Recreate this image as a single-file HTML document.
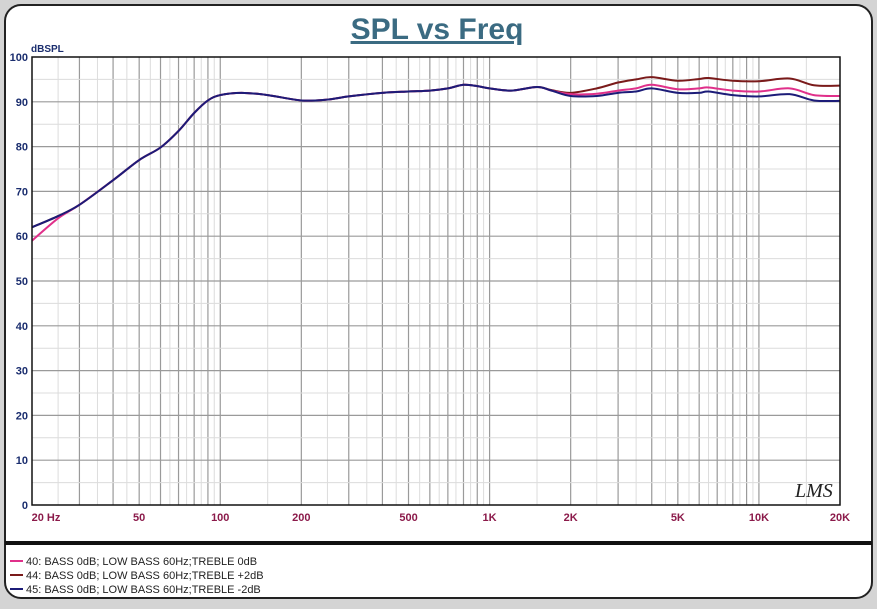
<!DOCTYPE html>
<html><head><meta charset="utf-8"><style>
body{margin:0;background:#d4d4d4;width:877px;height:604px;overflow:hidden;font-family:"Liberation Sans",sans-serif}
</style></head><body>
<svg width="877" height="604" xmlns="http://www.w3.org/2000/svg">
<rect x="5" y="5" width="867" height="593" rx="16" fill="#fff" stroke="#222" stroke-width="2"/>
<text x="437" y="39" text-anchor="middle" font-size="30" font-weight="bold" fill="#3b6b82" text-decoration="underline">SPL vs Freq</text>
<line x1="5" y1="543" x2="872" y2="543" stroke="#111" stroke-width="4"/>
<g id="grid"></g><g id="lines"></g><g id="labels"></g>
<rect x="32" y="57" width="808" height="448" fill="none" stroke="#111" stroke-width="1.5"/>
<text x="31" y="52" font-size="10" font-weight="bold" fill="#1a2d6e">dBSPL</text>
<text x="795" y="497" font-size="20" font-style="italic" fill="#222" font-family="Liberation Serif,serif">LMS</text>
<g font-size="11" fill="#222">
<g><line x1="10" y1="561" x2="23" y2="561" stroke="#e0308a" stroke-width="2"/><text x="26" y="565">40: BASS 0dB; LOW BASS 60Hz;TREBLE 0dB</text></g>
<g><line x1="10" y1="575" x2="23" y2="575" stroke="#7a1a1a" stroke-width="2"/><text x="26" y="579">44: BASS 0dB; LOW BASS 60Hz;TREBLE +2dB</text></g>
<g><line x1="10" y1="589" x2="23" y2="589" stroke="#1c1c78" stroke-width="2"/><text x="26" y="593">45: BASS 0dB; LOW BASS 60Hz;TREBLE -2dB</text></g>
</g>
</svg>
<script>
const freqs=[20,25,30,40,50,60,70,80,90,100,120,150,200,250,300,400,500,600,700,800,900,1000,1200,1500,1700,2000,2500,3000,3500,4000,5000,6000,6500,8000,10000,13000,16000,20000];
const blueVals=[62,64.5,67,72.5,77,79.8,83.5,87.5,90.3,91.5,92,91.5,90.3,90.5,91.2,92,92.3,92.5,93,93.8,93.5,93,92.5,93.3,92.5,91.3,91.3,92,92.3,93,92,92,92.3,91.5,91.2,91.7,90.3,90.2];
const pinkVals=[59,64,67,72.5,77,79.8,83.5,87.5,90.3,91.5,92,91.5,90.3,90.5,91.2,92,92.3,92.5,93,93.8,93.5,93,92.5,93.3,92.5,91.7,91.8,92.5,93,93.8,92.8,93,93.2,92.5,92.3,93,91.5,91.3];
const redVals=[62,64.5,67,72.5,77,79.8,83.5,87.5,90.3,91.5,92,91.5,90.3,90.5,91.2,92,92.3,92.5,93,93.8,93.5,93,92.5,93.3,92.6,92,93,94.3,95,95.5,94.7,95.1,95.3,94.7,94.6,95.2,93.7,93.6];
const xTicks=[20,50,100,200,500,1000,2000,5000,10000,20000];
const xTickLabels=["20  Hz","50","100","200","500","1K","2K","5K","10K","20K"];
const yTicks=[0,10,20,30,40,50,60,70,80,90,100];
const L=32,R=840,T=57,B=505;
const xs=f=>L+(Math.log10(f)-Math.log10(20))/3*(R-L);
const ys=v=>B-v/100*(B-T);
const NS="http://www.w3.org/2000/svg";
function mk(t,a,p){const e=document.createElementNS(NS,t);for(const k in a)e.setAttribute(k,a[k]);p.appendChild(e);return e;}
const g=document.getElementById('grid'),lg=document.getElementById('lines'),lb=document.getElementById('labels');
for(let d=10;d<=10000;d*=10){for(let m=1;m<10;m+=0.5){const f=d*m;if(f<=20||f>=20000)continue;const x=xs(f);const major=Number.isInteger(m);
const l=mk('line',{x1:x,x2:x,y1:T,y2:B,stroke:major?'#9a9a9a':'#dcdcdc','stroke-width':major?1.2:1},g);
}}
for(let v=5;v<100;v+=5){const l=mk('line',{x1:L,x2:R,y1:ys(v),y2:ys(v),stroke:v%10?'#dcdcdc':'#9a9a9a','stroke-width':v%10?1:1.2},g);
}
yTicks.forEach(v=>{const t=mk('text',{x:28,y:ys(v)+4,'text-anchor':'end','font-size':11,'font-weight':'bold',fill:'#1a2d6e'},lb);t.textContent=v;
});
xTicks.forEach((f,i)=>{const t=mk('text',{x:xs(f)+(i==0?14:0),y:521,'text-anchor':'middle','font-size':11,'font-weight':'bold',fill:'#8b1a4a','xml:space':'preserve'},lb);t.textContent=xTickLabels[i];
});
function path(vals){const p=freqs.map((f,i)=>[xs(f),ys(vals[i])]);let d='M'+p[0][0]+','+p[0][1];
for(let i=0;i<p.length-1;i++){const p0=p[Math.max(0,i-1)],p1=p[i],p2=p[i+1],p3=p[Math.min(p.length-1,i+2)];
d+=' C'+(p1[0]+(p2[0]-p0[0])/6)+','+(p1[1]+(p2[1]-p0[1])/6)+' '+(p2[0]-(p3[0]-p1[0])/6)+','+(p2[1]-(p3[1]-p1[1])/6)+' '+p2[0]+','+p2[1];}return d;}
[[redVals,'#7a1a1a','series-44'],[pinkVals,'#e0308a','series-40'],[blueVals,'#1c1c78','series-45']].forEach(s=>{
const e=mk('path',{d:path(s[0]),fill:'none',stroke:s[1],'stroke-width':2},lg);
});
</script>
</body></html>
